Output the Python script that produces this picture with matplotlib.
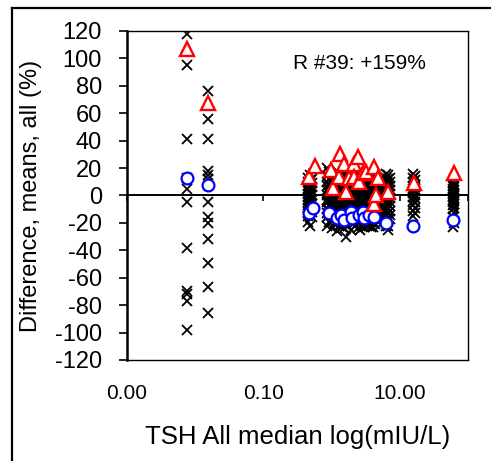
import numpy as np
import matplotlib.pyplot as plt
from matplotlib.lines import Line2D
from matplotlib.ticker import NullLocator

plt.rcParams['font.family'] = ['Liberation Sans', 'DejaVu Sans']
plt.rcParams['axes.unicode_minus'] = False

# individual results (black x), grouped by TSH median column
x_cols = [0.0076, 0.0155, 0.45, 0.48, 0.52, 0.85, 0.92, 1.0, 1.1, 1.2, 1.3, 1.4, 1.5,
          1.6, 1.75, 1.9, 2.05, 2.2, 2.4, 2.6, 2.8, 3.0, 3.3, 3.5, 3.8, 4.0, 4.3,
          4.6, 5.0, 5.3, 6.3, 6.7, 7.2, 15.5, 16.5, 61.0, 63.0]
y_cols = [
    [118, 95, 41, 13, 5, -5, -38, -70, -72, -77, -98],
    [76, 56, 41, 18, 15, 12, -5, -16, -20, -32, -49, -67, -86],
    [13, 10, 7, 5, 3, 1, -1, -3, -5, -7, -9, -12, -15, -19],
    [15, 11, 8, 6, 4, 2, 0, -2, -4, -6, -8, -10, -14, -22],
    [12, 9, 6, 3, 0, -3, -6, -9, -12, -16],
    [20, 14, 10, 7, 4, 0, -3, -5, -10, -13, -16, -22],
    [17, 12, 8, 5, 2, -1, -4, -7, -11, -14, -19],
    [14, 10, 6, 2, -1, -3, -6, -8, -13, -18, -24],
    [16, 12, 8, 5, 1, -2, -5, -9, -12, -16, -21],
    [18, 13, 9, 6, 3, -2, -4, -7, -12, -15, -20, -26],
    [15, 11, 7, 3, 0, -3, -6, -10, -14, -18, -22],
    [12, 8, 5, 2, 0, -3, -6, -9, -11, -17, -23],
    [17, 13, 9, 6, 2, -1, -5, -8, -12, -16, -20, -24],
    [15, 11, 8, 4, 1, -2, -4, -7, -9, -12, -15, -21, -30],
    [16, 12, 8, 5, 2, -1, -4, -8, -11, -14, -18, -22],
    [17, 13, 10, 7, 4, 1, -2, -5, -8, -11, -14, -19, -25],
    [14, 10, 6, 3, 0, -3, -6, -10, -13, -17, -21],
    [13, 9, 6, 3, 0, -2, -5, -8, -11, -14, -17, -22],
    [15, 11, 7, 4, 1, -2, -5, -9, -12, -16, -20, -24],
    [16, 12, 9, 5, 2, -1, -3, -6, -9, -12, -15, -20, -25],
    [13, 9, 5, 2, -1, -4, -7, -10, -14, -18, -22],
    [11, 8, 5, 2, -1, -3, -6, -9, -12, -15, -18, -23],
    [14, 10, 6, 3, 0, -3, -7, -10, -14, -18, -22],
    [14, 10, 7, 4, 1, -2, -4, -7, -10, -13, -16, -22],
    [12, 8, 4, 1, -2, -5, -8, -12, -15, -19, -23],
    [9, 6, 3, 0, -2, -5, -8, -11, -14, -17, -19, -23],
    [13, 9, 5, 2, -1, -4, -7, -10, -13, -17, -21],
    [12, 8, 5, 2, -1, -3, -6, -9, -12, -15, -18],
    [11, 7, 4, 1, -2, -5, -8, -11, -14, -18],
    [10, 7, 4, 1, -3, -6, -9, -12, -15, -21],
    [16, 13, 10, 7, 4, 1, -2, -5, -8, -11, -14, -18, -22],
    [15, 12, 9, 6, 3, 0, -3, -6, -9, -13, -17, -22, -25],
    [13, 10, 7, 4, 1, -2, -5, -8, -11, -14, -17],
    [16, 13, 10, 7, 5, 2, -1, -4, -7, -11, -15],
    [14, 11, 8, 6, 3, 0, -2, -5, -9, -13],
    [9, 7, 5, 3, 1, -1, -3, -5, -7, -10, -16, -23],
    [8, 6, 4, 2, 0, -2, -4, -6, -9, -13, -20],
]

# red triangles
tri_x = [0.0076, 0.0155, 0.46, 0.58, 0.97, 1.04, 1.27, 1.31, 1.5, 1.61, 1.78,
         2.11, 2.11, 2.41, 2.49, 2.86, 3.16, 4.15, 4.15, 4.44, 4.75, 6.66, 16.1, 62.2]
tri_y = [107, 67.5, 13.5, 21.5, 18.5, 5.5, 13.5, 30, 23, 2.5, 12.7,
         23, 13.5, 28, 9.8, 16.4, 17, 20.8, -6, 0, 12.7, 2.5, 9, 16.4]

# blue circles
circ_x = [0.0076, 0.0155, 0.46, 0.54, 0.93, 1.2, 1.36, 1.5, 1.9, 2.0, 2.49,
          2.9, 3.0, 3.5, 4.15, 6.2, 15.8, 61.0]
circ_y = [13, 7.7, -12.8, -9, -12.8, -16.4, -14, -18, -12, -16.4, -14,
          -12, -16.4, -14, -15.7, -20, -22, -18]

xtick_vals = [0.001, 0.1, 10]
xtick_labels = ['0.00', '0.10', '10.00']
annot = 'R #39: +159%'

fig = plt.figure(figsize=(4.91, 4.61), dpi=100)
ax = fig.add_axes([0.2587, 0.2191, 0.6945, 0.7137])

xs = []
ys = []
for xc, yc in zip(x_cols, y_cols):
    xs += [xc] * len(yc)
    ys += yc
ax.plot(xs, ys, 'x', color='black', markersize=7, mew=1.3, zorder=3)
ax.plot(circ_x, circ_y, 'o', mfc='white', mec='#0000FF', markersize=8.5, mew=1.6, zorder=4)
ax.plot(tri_x, tri_y, '^', mfc='white', mec='#FF0000', markersize=10, mew=1.7, zorder=5)

ax.set_xscale('log')
ax.set_xlim(0.001, 100)
ax.set_ylim(-120, 120)
ax.set_yticks(np.arange(-120, 121, 20))
ax.xaxis.set_minor_locator(NullLocator())
ax.set_xticks(xtick_vals, labels=xtick_labels)
ax.tick_params(axis='x', length=0, pad=17, labelsize=15)
ax.tick_params(axis='y', direction='out', length=6, width=1.2, pad=12, labelsize=17)

for s in ['top', 'right', 'bottom']:
    ax.spines[s].set_linewidth(1.0)
ax.spines['left'].set_linewidth(1.8)

# zero line with its own ticks
sec = ax.secondary_xaxis(0, transform=ax.transData)
sec.set_xticks(xtick_vals + [100])
sec.xaxis.set_minor_locator(NullLocator())
sec.tick_params(axis='x', direction='out', length=4, width=1.2, labelbottom=False, labeltop=False)
sec.spines['bottom'].set_linewidth(1.4)

ax.set_xlabel('TSH All median log(mIU/L)', fontsize=18.5, labelpad=16)
ax.set_ylabel('Difference, means, all (%)', fontsize=17, labelpad=9)
ax.text(0.683, 0.90, annot, transform=ax.transAxes, ha='center', va='center', fontsize=15)

# outer chart frame
fig.add_artist(Line2D([0.0244, 0.0244], [0, 0.9826], color='black', lw=1.6, transform=fig.transFigure))
fig.add_artist(Line2D([0.0244, 1.0], [0.9826, 0.9826], color='black', lw=1.6, transform=fig.transFigure))

fig.savefig('out.png', dpi=100)
